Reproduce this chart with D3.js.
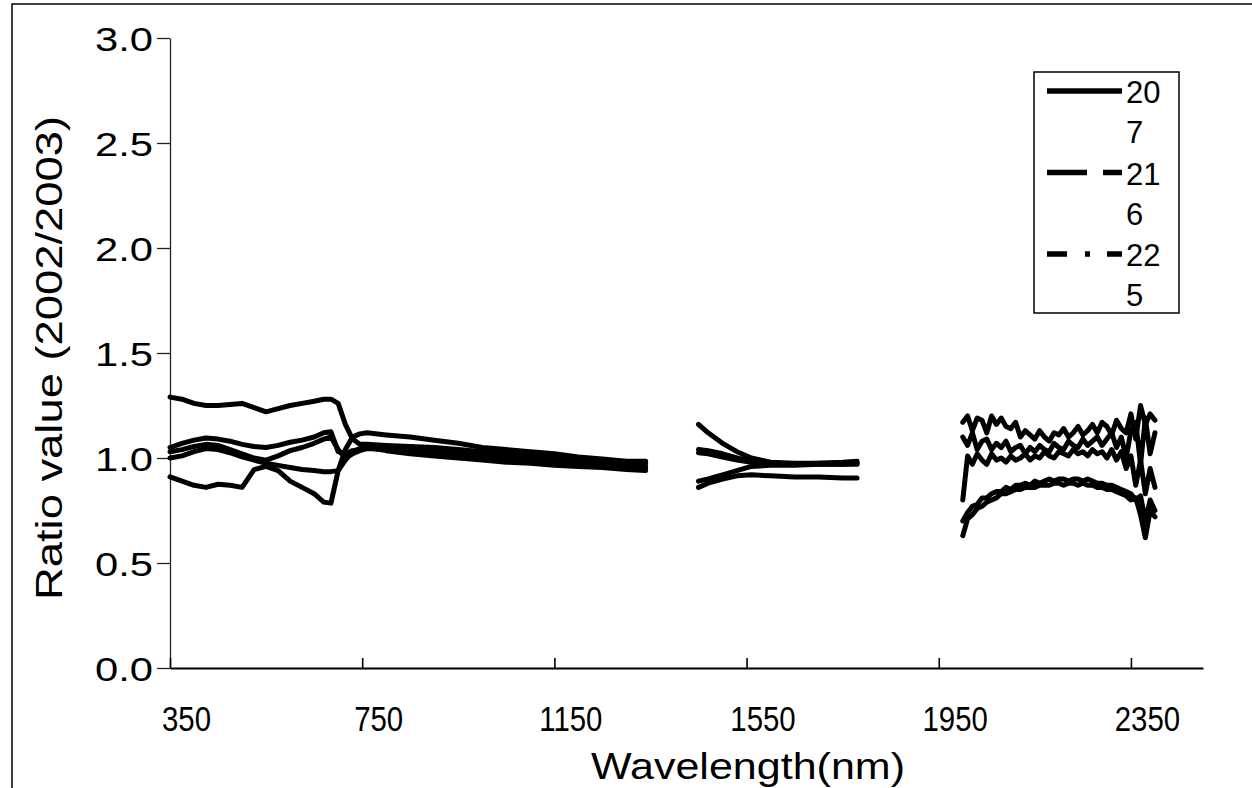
<!DOCTYPE html>
<html>
<head>
<meta charset="utf-8">
<script src="https://cdn.jsdelivr.net/npm/d3@7"></script>
<style>
  html, body { margin: 0; padding: 0; background: #fff; }
  svg { display: block; font-family: "Liberation Sans", Arial, sans-serif; }
</style>
</head>
<body>
<svg id="chart" width="1252" height="788"></svg>
<script>
// Wavelength samples (nm); null marks the water-absorption gaps where no ratio is plotted
const wavelengths = [
  350, 375, 400, 425, 450, 475, 500, 525, 550, 575, 600, 625, 650, 670, 685,
  700, 715, 730, 745, 760, 800, 850, 900, 950, 1000, 1050, 1100, 1150, 1200, 1250, 1300, 1340,
  1400,
  1450, 1470, 1500, 1530, 1560, 1600, 1650, 1700, 1750, 1780,
  1900,
  2000, 2010, 2020, 2030, 2040, 2050, 2060, 2070, 2080, 2090, 2100, 2110, 2120, 2130, 2140,
  2150, 2160, 2170, 2180, 2190, 2200, 2210, 2220, 2230, 2240, 2250, 2260, 2270, 2280, 2290,
  2300, 2310, 2320, 2330, 2340, 2350, 2360, 2370, 2380, 2390, 2400
];

// Ratio of 2002 to 2003 reflectance for each plot
const plot207 = [
  1.29, 1.28, 1.26, 1.25, 1.25, 1.255, 1.26, 1.24, 1.22, 1.235, 1.25, 1.26, 1.27, 1.28, 1.28,
  1.26, 1.16, 1.09, 1.065, 1.065, 1.06, 1.055, 1.05, 1.04, 1.03, 1.02, 1.01, 1.0, 0.99, 0.98, 0.975, 0.975,
  null,
  1.16, 1.12, 1.07, 1.03, 1.0, 0.98, 0.975, 0.975, 0.98, 0.985,
  null,
  1.17, 1.20, 1.13, 1.19, 1.18, 1.12, 1.20, 1.16, 1.19, 1.15, 1.14, 1.17, 1.10, 1.13, 1.11,
  1.09, 1.13, 1.10, 1.08, 1.12, 1.11, 1.14, 1.10, 1.12, 1.15, 1.11, 1.13, 1.16, 1.12, 1.17,
  1.15, 1.11, 1.18, 1.14, 1.12, 1.21, 1.09, 1.25, 1.16, 1.21, 1.18
];
const plot216 = [
  1.05, 1.07, 1.085, 1.095, 1.09, 1.08, 1.065, 1.055, 1.05, 1.06, 1.075, 1.085, 1.10, 1.12, 1.125,
  1.03, 1.02, 1.035, 1.04, 1.05, 1.05, 1.04, 1.03, 1.02, 1.015, 1.005, 1.0, 0.99, 0.98, 0.97, 0.965, 0.96,
  null,
  1.04, 1.035, 1.02, 1.0, 0.985, 0.975, 0.97, 0.975, 0.975, 0.98,
  null,
  1.10, 1.06, 1.12, 1.04, 1.08, 1.09, 1.04, 1.07, 1.05, 1.08, 1.03, 1.05, 1.06, 1.02, 1.05,
  1.03, 1.06, 1.04, 1.03, 1.07, 1.05, 1.04, 1.08, 1.06, 1.05, 1.09, 1.06, 1.08, 1.10, 1.06,
  1.09, 1.12, 1.05, 1.10, 1.00, 1.13, 1.17, 0.97, 1.19, 1.02, 1.12
];
const plot225 = [
  1.03, 1.04, 1.055, 1.065, 1.06, 1.04, 1.02, 1.0, 0.99, 1.01, 1.035, 1.05, 1.07, 1.09, 1.10,
  1.04, 1.0, 1.02, 1.035, 1.045, 1.04, 1.03, 1.02, 1.01, 1.005, 1.0, 0.99, 0.98, 0.97, 0.96, 0.955, 0.95,
  null,
  1.025, 1.02, 1.005, 0.99, 0.98, 0.97, 0.97, 0.97, 0.97, 0.97,
  null,
  0.80, 1.01, 0.97, 1.02, 0.99, 0.97, 1.02, 0.99, 1.00, 0.98, 1.01, 0.99, 1.00, 1.02, 0.99,
  1.01, 1.00, 1.03, 1.01, 1.00, 1.03, 1.02, 1.01, 1.04, 1.02, 1.03, 1.01, 1.04, 1.02, 1.03,
  1.00, 1.04, 0.99, 1.03, 0.95, 1.01, 0.87, 0.99, 0.83, 0.95, 0.86
];
const plot234 = [
  1.00, 1.01, 1.03, 1.045, 1.04, 1.025, 1.005, 0.99, 0.975, 0.965, 0.955, 0.945, 0.94, 0.935, 0.935,
  0.94, 0.99, 1.03, 1.045, 1.05, 1.035, 1.02, 1.01, 1.0, 0.99, 0.98, 0.975, 0.965, 0.96, 0.955, 0.945, 0.94,
  null,
  0.86, 0.88, 0.90, 0.915, 0.92, 0.915, 0.91, 0.91, 0.905, 0.905,
  null,
  0.70, 0.74, 0.77, 0.78, 0.81, 0.81, 0.83, 0.84, 0.84, 0.86, 0.85, 0.87, 0.87, 0.88, 0.87,
  0.89, 0.88, 0.89, 0.90, 0.89, 0.90, 0.90, 0.89, 0.90, 0.90, 0.89, 0.90, 0.89, 0.88, 0.88,
  0.87, 0.87, 0.86, 0.85, 0.84, 0.83, 0.80, 0.82, 0.70, 0.80, 0.75
];
const plot243 = [
  0.91, 0.89, 0.87, 0.86, 0.875, 0.87, 0.86, 0.945, 0.96, 0.94, 0.89, 0.86, 0.83, 0.79, 0.785,
  0.94, 1.04, 1.10, 1.115, 1.12, 1.11, 1.10, 1.085, 1.07, 1.05, 1.04, 1.03, 1.02, 1.005, 0.995, 0.985, 0.985,
  null,
  0.89, 0.90, 0.92, 0.94, 0.96, 0.965, 0.965, 0.97, 0.97, 0.975,
  null,
  0.63, 0.71, 0.73, 0.76, 0.77, 0.79, 0.80, 0.81, 0.83, 0.83, 0.84, 0.85, 0.85, 0.86, 0.86,
  0.86, 0.87, 0.87, 0.87, 0.88, 0.88, 0.87, 0.88, 0.88, 0.87, 0.88, 0.87, 0.87, 0.86, 0.86,
  0.85, 0.85, 0.84, 0.83, 0.82, 0.80, 0.81, 0.73, 0.62, 0.75, 0.72
];

// Series and the legend key (the legend box only has room for the first three)
const seriesNames = ["207", "216", "225", "234", "243"];
const seriesValues = [plot207, plot216, plot225, plot234, plot243];
const legendNames = ["207", "216", "225"];
const legendDashes = ["none", "40,16", "20,18,5,17"];

const xTicks = [350, 750, 1150, 1550, 1950, 2350];
const yTicks = [0, 0.5, 1.0, 1.5, 2.0, 2.5, 3.0];

const svg = d3.select("#chart");
const W = 1252, H = 788;
const plot = { left: 170, right: 1203, top: 38, bottom: 668 };

// Outer chart frame
svg.append("rect")
  .attr("x", 12).attr("y", 4).attr("width", W + 20).attr("height", H + 20)
  .attr("fill", "none").attr("stroke", "#000").attr("stroke-width", 1.5);

const x = d3.scaleLinear().domain([350, 2500]).range([plot.left, plot.right]);
const y = d3.scaleLinear().domain([0, 3]).range([plot.bottom, plot.top]);

// Y axis
const yAxis = svg.append("g")
  .attr("transform", `translate(${plot.left},0)`)
  .call(d3.axisLeft(y).tickValues(yTicks).tickFormat(d3.format(".1f"))
    .tickSize(13).tickSizeOuter(0).tickPadding(4));
yAxis.select(".domain").attr("stroke", "#222").attr("stroke-width", 1.3);
yAxis.selectAll(".tick line").attr("stroke", "#222").attr("stroke-width", 1.3);
yAxis.selectAll(".tick text")
  .attr("font-size", 34).attr("fill", "#000")
  .attr("textLength", 58).attr("lengthAdjust", "spacingAndGlyphs")
  .attr("dy", "0.36em");

// X axis: ticks point into the plot
const xAxis = svg.append("g")
  .attr("transform", `translate(0,${plot.bottom})`)
  .call(d3.axisBottom(x).tickValues(xTicks).tickFormat(d3.format("d"))
    .tickSizeInner(-10).tickSizeOuter(0).tickPadding(40));
xAxis.select(".domain").attr("stroke", "#000").attr("stroke-width", 2.2);
xAxis.selectAll(".tick line").attr("stroke", "#000").attr("stroke-width", 1.6);
xAxis.selectAll(".tick text")
  .attr("font-size", 35).attr("fill", "#000")
  .attr("x", 19).attr("y", 38)
  .attr("transform", "scale(0.84,1)");

// Axis titles
svg.append("text")
  .attr("x", 748).attr("y", 779)
  .attr("text-anchor", "middle").attr("font-size", 37)
  .attr("textLength", 314).attr("lengthAdjust", "spacingAndGlyphs")
  .text("Wavelength(nm)");

svg.append("text")
  .attr("transform", "translate(62,358) rotate(-90)")
  .attr("text-anchor", "middle").attr("font-size", 37)
  .attr("textLength", 484).attr("lengthAdjust", "spacingAndGlyphs")
  .text("Ratio value (2002/2003)");

// Spectral ratio lines
const line = d3.line()
  .defined(d => d.v !== null)
  .x(d => x(d.w))
  .y(d => y(d.v));

const series = seriesNames.map((name, i) => ({
  name,
  points: wavelengths.map((w, j) => ({ w, v: seriesValues[i][j] }))
}));

svg.append("g").selectAll("path")
  .data(series)
  .join("path")
  .attr("d", d => line(d.points))
  .attr("fill", "none")
  .attr("stroke", "#000")
  .attr("stroke-width", 5)
  .attr("stroke-linejoin", "round")
  .attr("stroke-linecap", "round");

// Legend
const legend = svg.append("g");
legend.append("rect")
  .attr("x", 1034).attr("y", 72).attr("width", 145).attr("height", 241)
  .attr("fill", "#fff").attr("stroke", "#000").attr("stroke-width", 1.5);

const rowH = 81.5;
legendNames.forEach((name, i) => {
  const cy = 91 + i * rowH;
  legend.append("line")
    .attr("x1", 1047).attr("x2", 1122).attr("y1", cy).attr("y2", cy)
    .attr("stroke", "#000").attr("stroke-width", 5.5)
    .attr("stroke-dasharray", legendDashes[i]);
  // the narrow box wraps each name after two characters
  const parts = [name.slice(0, 2), name.slice(2)];
  parts.forEach((p, k) => {
    legend.append("text")
      .attr("x", 1126).attr("y", cy + 12 + k * 40)
      .attr("font-size", 31)
      .text(p);
  });
});
</script>
</body>
</html>
